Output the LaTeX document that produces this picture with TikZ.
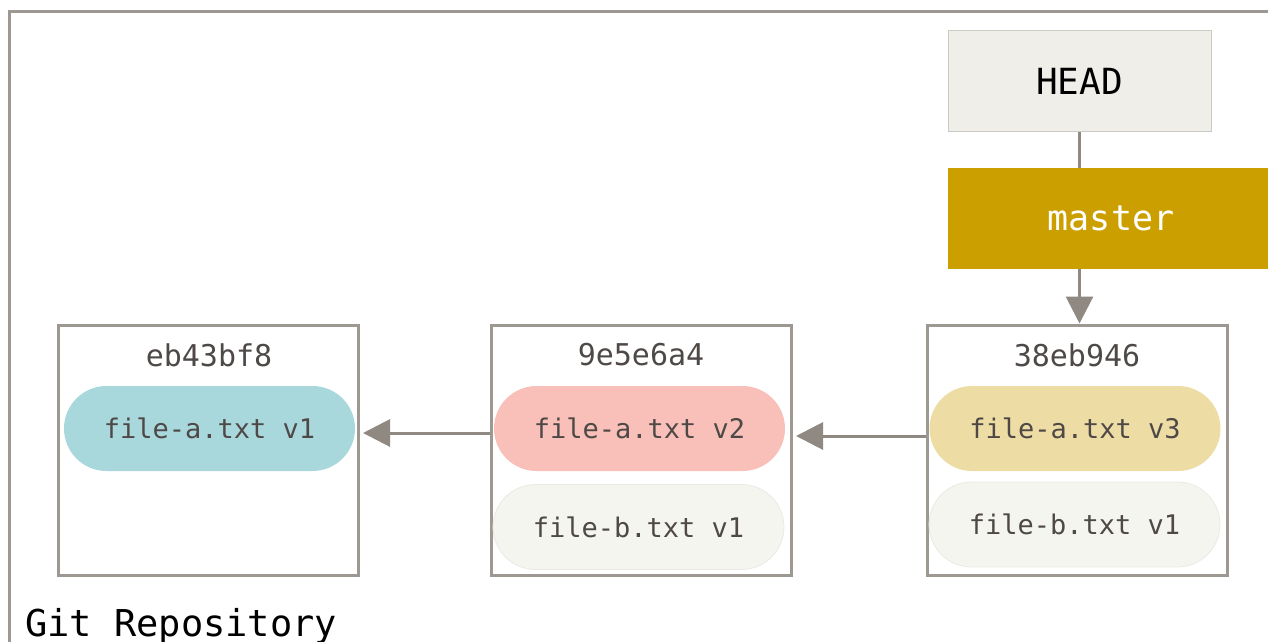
\documentclass[tikz,border=0pt]{standalone}
\usepackage{fontspec}
\setmonofont{DejaVu Sans Mono}
\usetikzlibrary{arrows.meta, positioning, shapes.misc}
\definecolor{framegray}{RGB}{158,152,146}
\definecolor{linegray}{RGB}{143,137,130}
\definecolor{headfill}{RGB}{239,238,232}
\definecolor{headedge}{RGB}{204,202,197}
\definecolor{masterfill}{RGB}{204,159,0}
\definecolor{tealfill}{RGB}{168,216,220}
\definecolor{salmonfill}{RGB}{248,192,184}
\definecolor{sandfill}{RGB}{237,220,164}
\definecolor{paperfill}{RGB}{245,245,240}
\definecolor{paperedge}{RGB}{234,234,229}
\definecolor{inkgray}{RGB}{78,73,70}

\tikzset{
  commitbox/.style={draw=framegray, line width=3pt, minimum width=300pt, minimum height=250pt, inner sep=0pt},
  commitid/.style={font=\ttfamily\fontsize{30}{30}\selectfont, text=inkgray, inner sep=0pt},
  filepill/.style={rounded rectangle, minimum width=291pt, minimum height=85pt, inner sep=0pt,
    font=\ttfamily\fontsize{27}{27}\selectfont, text=inkgray},
  refbox/.style={minimum height=100pt, inner sep=0pt, font=\ttfamily\fontsize{36}{36}\selectfont},
  arr/.style={draw=linegray, line width=3pt, -{Triangle[length=27pt,width=27pt]}},
}

\begin{document}
\begin{tikzpicture}[x=1pt, y=-1pt]
  \useasboundingbox (0,0) rectangle (1268,642);
  % repository frame
  \draw[framegray, line width=3pt] (9.5,650) -- (9.5,12) -- (1280,12);
  \node[anchor=base west, font=\ttfamily\fontsize{37}{37}\selectfont, inner sep=0pt] (repo) at (25,636) {Git Repository};

  % commits
  \node[commitbox] (c1) at (208.5,450) {};
  \node[commitbox] (c2) at (641.5,450) {};
  \node[commitbox] (c3) at (1077,450) {};
  \node[commitid] (id1) at (209,355) {eb43bf8};
  \node[commitid] (id2) at (641,355) {9e5e6a4};
  \node[commitid] (id3) at (1077,355) {38eb946};

  \node[filepill, fill=tealfill] (a1) at (209.5,428.5) {file-a.txt v1};
  \node[filepill, fill=salmonfill] (a2) at (639.5,428.5) {file-a.txt v2};
  \node[filepill, fill=paperfill, draw=paperedge, line width=0.8pt] (b2) at (638.5,527) {file-b.txt v1};
  \node[filepill, fill=sandfill] (a3) at (1075,428.5) {file-a.txt v3};
  \node[filepill, fill=paperfill, draw=paperedge, line width=0.8pt] (b3) at (1074.5,524.5) {file-b.txt v1};

  % refs
  \node[refbox, fill=headfill, draw=headedge, line width=1pt, minimum width=263pt] (head) at (1079.5,81) {HEAD};
  \node[refbox, fill=masterfill, text=white, minimum width=326pt, minimum height=101pt, font=\ttfamily\fontsize{35}{35}\selectfont] (master) at (1111,218.5) {master};

  % connectors
  \draw[linegray, line width=3pt] (head.south) -- (head.south |- master.north);
  \draw[arr] (head.south |- master.south) -- (head.south |- c3.north);
  \draw[arr] ([yshift=17pt]c2.west) -- ([yshift=17pt, xshift=3pt]c1.east);
  \draw[arr] ([yshift=14pt]c3.west) -- ([yshift=14pt, xshift=3pt]c2.east);
\end{tikzpicture}
\end{document}
